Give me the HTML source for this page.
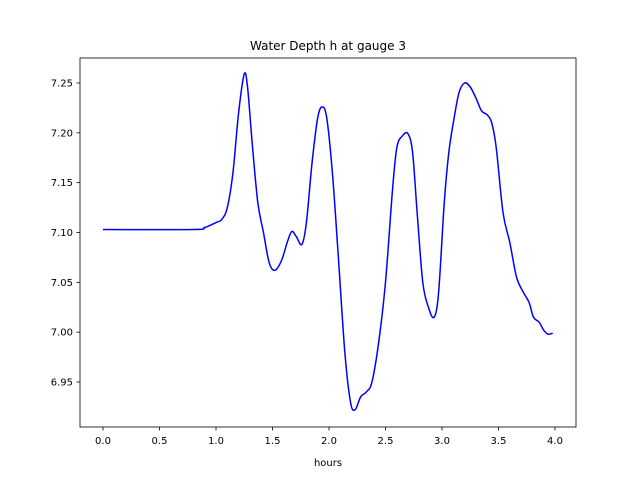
<!DOCTYPE html>
<html><head><meta charset="utf-8"><style>
body{margin:0;background:#fff;font-family:"Liberation Sans","DejaVu Sans",sans-serif}
svg text{font-family:"DejaVu Sans","Liberation Sans",sans-serif;font-size:10px;fill:#000}
</style></head><body>
<svg width="640" height="480" xmlns="http://www.w3.org/2000/svg">
<rect width="640" height="480" fill="#fff"/>
<g id="g"></g>
<text x="328" y="50" text-anchor="middle" style="font-size:12px">Water Depth h at gauge 3</text>
<text x="328" y="466" text-anchor="middle">hours</text>
</svg>
<script>
const hours=[0,0.8,0.9,1.0,1.05,1.1,1.15,1.2,1.25,1.28,1.32,1.37,1.42,1.47,1.52,1.58,1.63,1.67,1.71,1.76,1.8,1.85,1.9,1.94,1.98,2.03,2.08,2.14,2.19,2.23,2.28,2.33,2.38,2.44,2.5,2.56,2.6,2.65,2.7,2.74,2.78,2.83,2.88,2.93,2.97,3.02,3.06,3.1,3.15,3.2,3.25,3.3,3.35,3.4,3.44,3.48,3.54,3.6,3.66,3.72,3.77,3.81,3.86,3.9,3.94,3.98];
const depth=[7.103,7.103,7.105,7.110,7.113,7.125,7.16,7.22,7.259,7.245,7.19,7.13,7.10,7.07,7.062,7.072,7.09,7.101,7.096,7.088,7.11,7.17,7.215,7.226,7.215,7.16,7.08,6.98,6.93,6.922,6.935,6.94,6.95,6.99,7.05,7.14,7.185,7.197,7.199,7.18,7.12,7.05,7.025,7.015,7.04,7.13,7.18,7.21,7.24,7.25,7.246,7.235,7.222,7.218,7.21,7.185,7.12,7.09,7.055,7.04,7.03,7.015,7.01,7.002,6.998,6.999];
const xTicks=["0.0","0.5","1.0","1.5","2.0","2.5","3.0","3.5","4.0"];
const yTicks=["6.95","7.00","7.05","7.10","7.15","7.20","7.25"];
const L=80,R=576,T=58,B=427;
const X=v=>103+v*113;
const Y=v=>83+(7.25-v)*996.7;
const NS="http://www.w3.org/2000/svg",g=document.getElementById('g');
function mk(t,a){const e=document.createElementNS(NS,t);for(const k in a)e.setAttribute(k,a[k]);g.appendChild(e);return e;}
xTicks.forEach(s=>{const x=X(+s);
 const l=mk('line',{x1:x,x2:x,y1:B,y2:B+3.5,stroke:'#000','stroke-width':0.8});
 
 
 const t=mk('text',{x:x,y:B+17,'text-anchor':'middle'});t.textContent=s;
 
 });
yTicks.forEach(s=>{const y=Y(+s);
 const l=mk('line',{x1:L-3.5,x2:L,y1:y,y2:y,stroke:'#000','stroke-width':0.8});
 
 
 const t=mk('text',{x:L-7,y:y+3.5,'text-anchor':'end'});t.textContent=s;
 
 });
const P=hours.map((h,i)=>[X(h),Y(depth[i])]);
let d='M'+P[0][0]+','+P[0][1];
for(let i=0;i<P.length-1;i++){
 const p0=P[Math.max(0,i-1)],p1=P[i],p2=P[i+1],p3=P[Math.min(P.length-1,i+2)];
 const c1=[p1[0]+(p2[0]-p0[0])/6,p1[1]+(p2[1]-p0[1])/6];
 const c2=[p2[0]-(p3[0]-p1[0])/6,p2[1]-(p3[1]-p1[1])/6];
 d+=' C'+c1[0]+','+c1[1]+' '+c2[0]+','+c2[1]+' '+p2[0]+','+p2[1];
}
const p=mk('path',{d:d,fill:'none',stroke:'#0000ff','stroke-width':1.5,'stroke-linejoin':'round'});


const f=mk('rect',{x:L,y:T,width:R-L,height:B-T,fill:'none',stroke:'#000','stroke-width':0.8});


</script>
</body></html>
